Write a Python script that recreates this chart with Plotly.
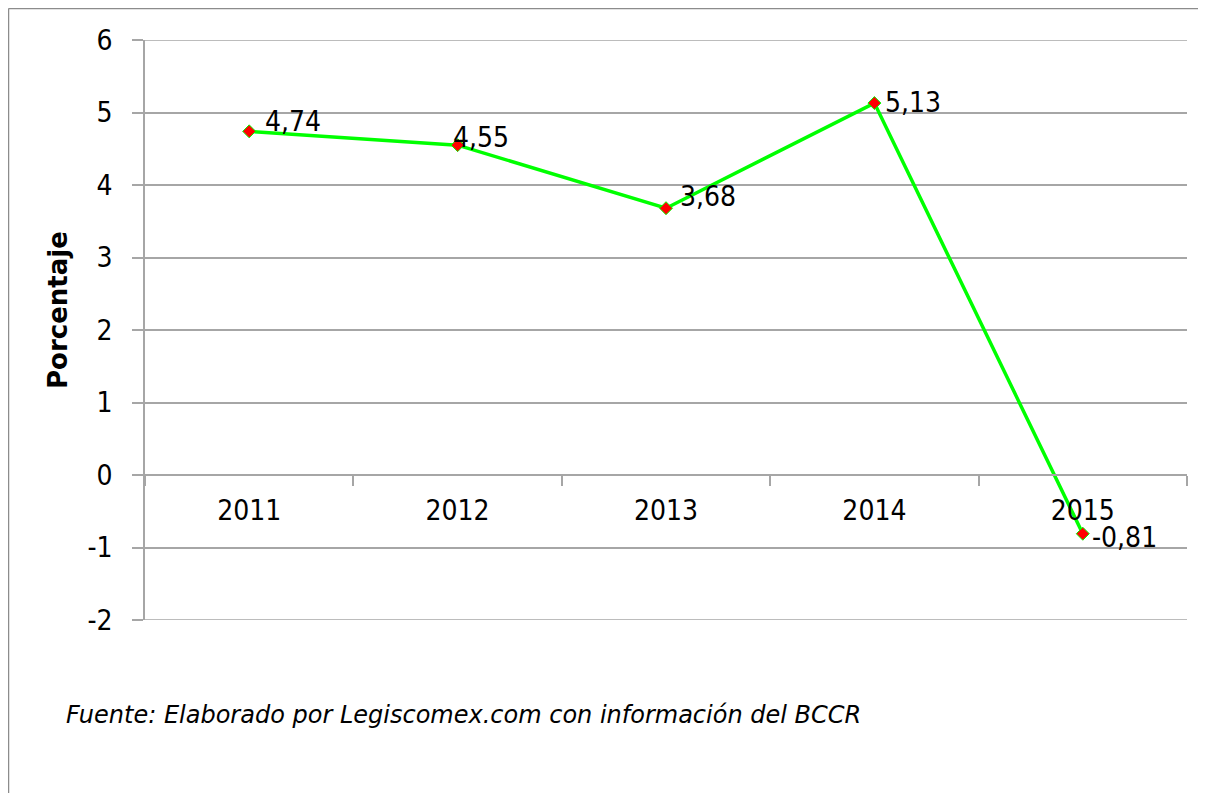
import plotly.graph_objects as go

years = ["2011", "2012", "2013", "2014", "2015"]
values = [4.74, 4.55, 3.68, 5.13, -0.81]
y_ticks = [-2, -1, 0, 1, 2, 3, 4, 5, 6]
y_ticktext = ["-2", "-1", "0", "1", "2", "3", "4", "5", "6"]
y_title = "Porcentaje"
source_note = "Fuente: Elaborado por Legiscomex.com con información del BCCR"

# label placement (style, pixels)
label_dx = [15, -6, 13, 10, 8]
label_dy = [10, 8, 12, 1, -4]

FONT_C = "DejaVu Sans Condensed, DejaVu Sans, sans-serif"
FONT = "DejaVu Sans, sans-serif"
GRID = "#a6a6a6"

labels = [f"{v:.2f}".replace(".", ",") for v in values]

fig = go.Figure()
fig.add_trace(go.Scatter(
    x=years, y=values, mode="lines+markers",
    line=dict(color="#00ff00", width=3.5),
    marker=dict(symbol="diamond", size=10, color="#ff0000",
                line=dict(color="#00ff00", width=1)),
    cliponaxis=False, showlegend=False,
))

W, H = 1198, 785
L, R, T, B = 137, 19, 32, 173
pw, ph = W - L - R, H - T - B

def px_x(p):
    return (p - L) / pw

def px_y(p):
    return (H - B - p) / ph

annotations = []
for i, (v, lab, dx, dy) in enumerate(zip(values, labels, label_dx, label_dy)):
    annotations.append(dict(
        x=i, y=v, xref="x", yref="y", text=lab, showarrow=False,
        xanchor="left", yanchor="middle", xshift=dx, yshift=dy,
        borderpad=0,
        font=dict(family=FONT_C, size=28, color="#000000"),
    ))
annotations.append(dict(
    text=f"<b>{y_title}</b>", xref="paper", yref="paper",
    x=px_x(50), y=px_y(302), xanchor="center", yanchor="middle",
    textangle=-90, showarrow=False,
    font=dict(size=26, family=FONT, color="#000000"),
))
annotations.append(dict(
    text=f"<i>{source_note}</i>", xref="paper", yref="paper",
    x=px_x(56), y=px_y(707), xanchor="left", yanchor="middle",
    showarrow=False, font=dict(size=24, family=FONT, color="#000000"),
))

fig.update_layout(
    width=W, height=H,
    margin=dict(l=L, r=R, t=T, b=B),
    paper_bgcolor="white", plot_bgcolor="white",
    font=dict(family=FONT_C, color="#000000"),
    xaxis=dict(
        type="category", categoryarray=years, categoryorder="array",
        range=[-0.5, 4.5], anchor="free", position=0.25,
        showgrid=False, showline=True, linecolor=GRID, linewidth=1.5,
        ticks="outside", tickson="boundaries", ticklen=10, tickcolor=GRID,
        tickwidth=1.5, tickfont=dict(size=28, family=FONT_C),
        ticklabelstandoff=11,
    ),
    yaxis=dict(
        range=[-2, 6], tickvals=y_ticks, ticktext=y_ticktext,
        showgrid=True, gridcolor=GRID, gridwidth=1.5, zeroline=False,
        showline=True, linecolor=GRID, linewidth=1.5,
        ticks="outside", ticklen=11, tickcolor=GRID, tickwidth=1.5,
        tickfont=dict(size=28, family=FONT_C),
        ticklabelstandoff=14,
    ),
    shapes=[
        dict(type="line", xref="paper", yref="y", x0=0, x1=1, y0=-2, y1=-2,
             layer="below", line=dict(color=GRID, width=1.5)),
        dict(type="line", xref="paper", yref="y", x0=0, x1=1, y0=6, y1=6,
             layer="below", line=dict(color=GRID, width=1.5)),
        dict(type="line", xref="paper", yref="paper",
             x0=px_x(0.5), x1=px_x(W), y0=px_y(0.5), y1=px_y(0.5),
             line=dict(color="#8c8c8c", width=1.5)),
        dict(type="line", xref="paper", yref="paper",
             x0=px_x(0.5), x1=px_x(0.5), y0=px_y(0.5), y1=px_y(H),
             line=dict(color="#8c8c8c", width=1.5)),
    ],
    annotations=annotations,
)

fig.write_html("out.html")
